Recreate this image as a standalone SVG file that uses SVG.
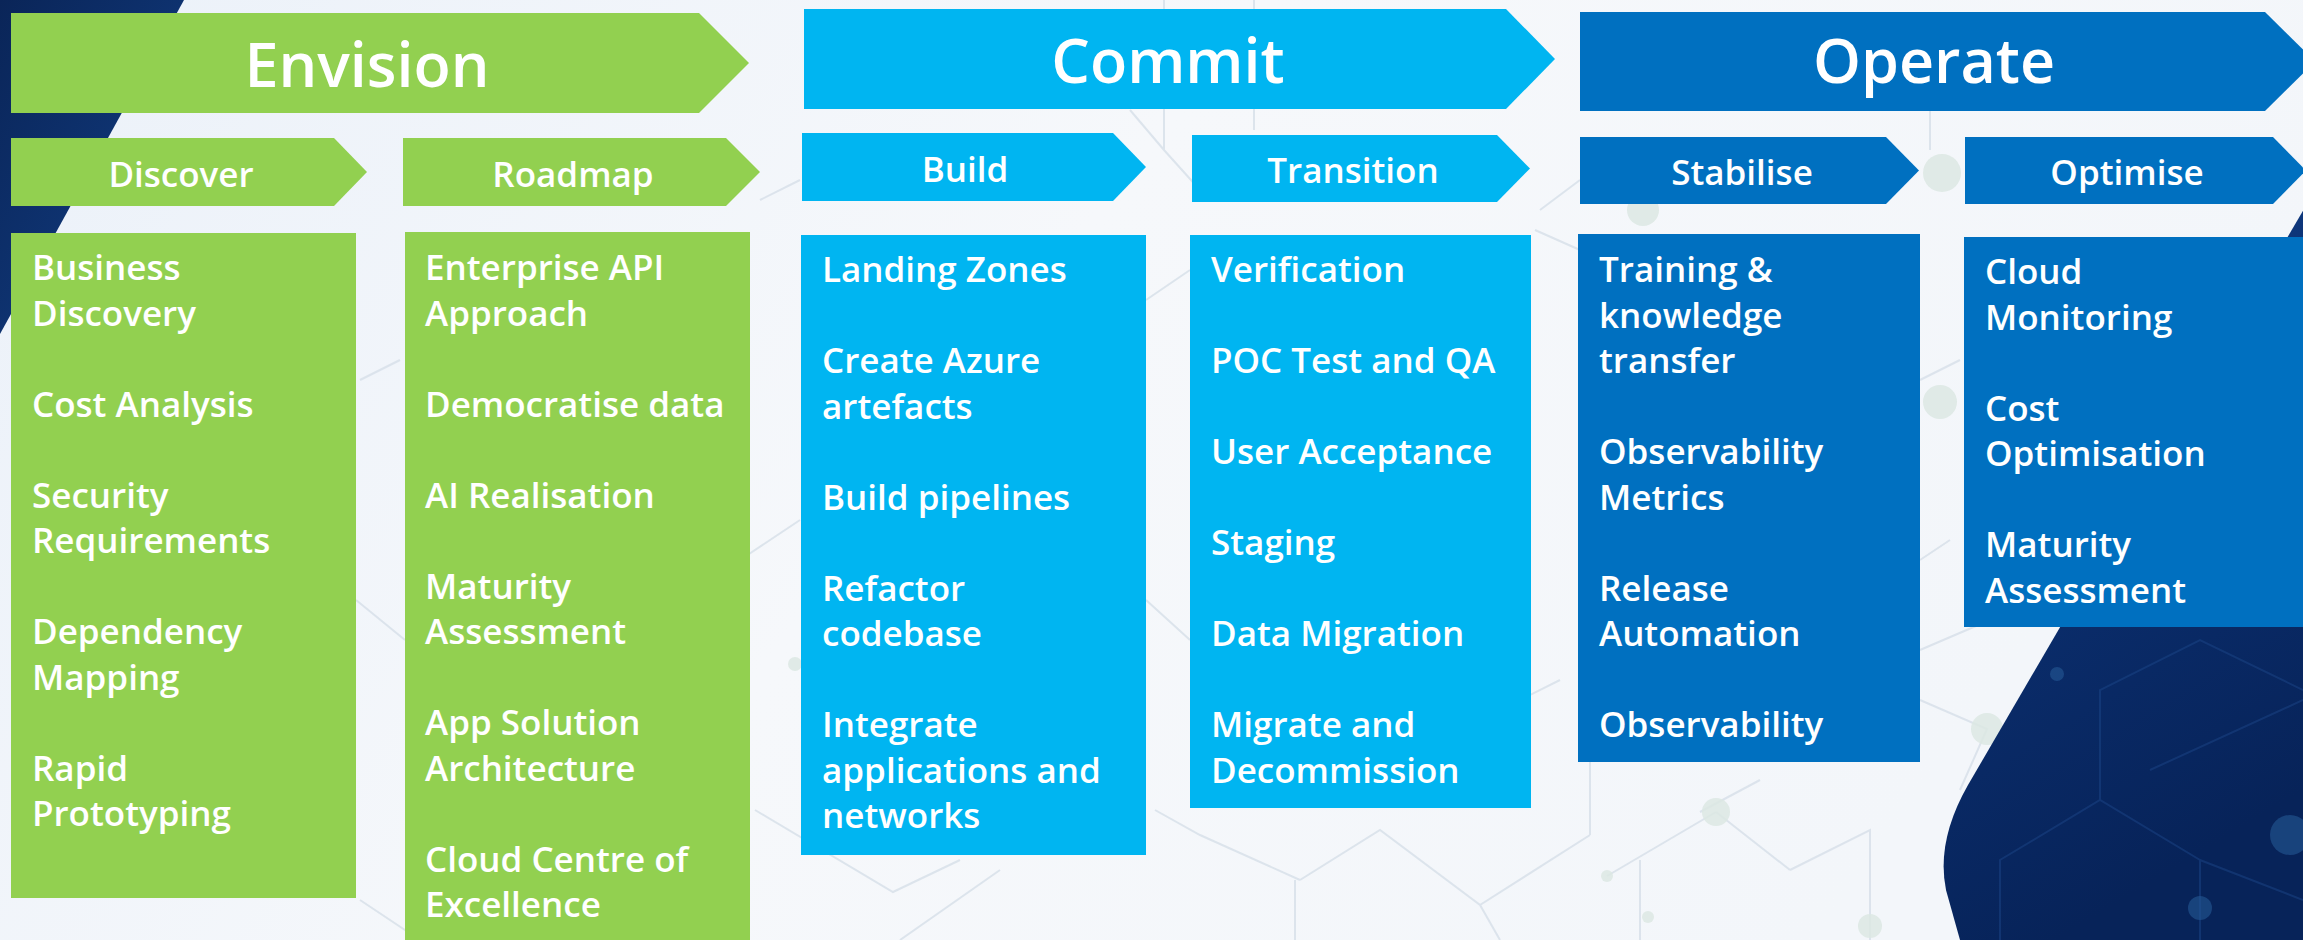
<svg xmlns="http://www.w3.org/2000/svg" width="2303" height="940" viewBox="0 0 2303 940">
<defs>
<linearGradient id="bg" x1="0" y1="0" x2="1" y2="0.3">
<stop offset="0" stop-color="#EBF1F9"/>
<stop offset="0.5" stop-color="#F6F8FB"/>
<stop offset="1" stop-color="#F3F6FA"/>
</linearGradient>
<linearGradient id="navyTL" x1="0" y1="0" x2="1" y2="1">
<stop offset="0" stop-color="#0A2558"/>
<stop offset="1" stop-color="#123F86"/>
</linearGradient>
<linearGradient id="navyBR" x1="0" y1="0" x2="0.3" y2="1">
<stop offset="0" stop-color="#1A55A3"/>
<stop offset="0.35" stop-color="#0C3275"/>
<stop offset="1" stop-color="#072359"/>
</linearGradient>
<style>
.green{fill:#92D050}
.lblue{fill:#00B5F1}
.dblue{fill:#0070C0}
.t{font-family:"Open Sans","Noto Sans","Liberation Sans",sans-serif;font-weight:600;fill:#FFFFFF}
.h1{font-size:61px;text-anchor:middle}
.h2{font-size:35px;text-anchor:middle}
.li{font-size:35px}
.net{fill:none;stroke:#D2DCE5;stroke-width:2;opacity:0.7}
.dot{fill:#DCE8E3;opacity:0.85}
.netd{fill:none;stroke:#1E4A8C;stroke-width:2;opacity:0.45}
</style>
</defs>

<g id="background">
<rect x="0" y="0" width="2303" height="940" fill="url(#bg)"/>
<path d="M0,0 H184 L0,334 Z" fill="url(#navyTL)"/>
<path class="net" d="M1164,0 V150 M1254,0 V130 M740,560 L800,520 M1130,110 L1164,150 L1200,190"/>
<path class="net" d="M755,810 L893,892 L960,860 M900,940 L1000,870 M1155,810 L1200,835 L1300,880 M1295,880 V940 M1300,880 L1380,830 L1480,905 L1500,940 M1480,905 L1590,835 M1590,835 V760 M1700,812 L1760,780 M1607,876 L1716,812 M1640,860 V940 M1790,870 L1870,830 L1870,940 M1716,812 L1790,870"/>
<path class="net" d="M1920,380 L1960,360 M1920,650 L1990,620 M1920,700 L1987,729 L1960,790 M1920,560 L1950,540"/>
<path class="net" d="M360,900 L420,940 M760,200 L800,180 M1540,210 L1580,180 M1930,110 V150 M1520,700 L1560,680 M1535,230 L1580,250 M360,380 L400,360 M356,600 L405,640 M1146,600 L1190,640 M1146,300 L1190,270"/>
<circle class="dot" cx="1942" cy="173" r="19"/>
<circle class="dot" cx="1643" cy="210" r="16"/>
<circle class="dot" cx="1940" cy="402" r="17"/>
<circle class="dot" cx="1987" cy="729" r="16"/>
<circle class="dot" cx="1716" cy="812" r="14"/>
<circle class="dot" cx="795" cy="664" r="7"/>
<circle class="dot" cx="1870" cy="926" r="12"/>
<circle class="dot" cx="1607" cy="876" r="6"/>
<circle class="dot" cx="1648" cy="917" r="6"/>
<path d="M2318,185 L1968,785 Q1936,841 1946,890 L1960,940 L2303,940 Z" fill="url(#navyBR)"/>
<path class="netd" d="M2000,940 L2000,860 L2100,800 L2200,860 L2200,940 M2100,800 V690 L2200,640 L2303,690 M2150,770 L2303,700 M2200,860 L2303,900"/>
<circle cx="2290" cy="835" r="20" fill="#245894" opacity="0.6"/>
<circle cx="2200" cy="908" r="12" fill="#245894" opacity="0.6"/>
<circle cx="2057" cy="674" r="7" fill="#245894" opacity="0.6"/>
</g>

<g id="envision">
<path class="green" d="M11,13 H699 L749,63 L699,113 H11 Z"/>
<text class="t h1" x="367" y="87">Envision</text>
</g>
<g id="commit">
<path class="lblue" d="M804,9 H1506 L1555,59 L1506,109 H804 Z"/>
<text class="t h1" x="1168" y="83">Commit</text>
</g>
<g id="operate">
<path class="dblue" d="M1580,12 H2265 L2315,61.5 L2265,111 H1580 Z"/>
<text class="t h1" x="1934" y="83">Operate</text>
</g>

<g id="discover">
<path class="green" d="M11,138 H334 L367,172 L334,206 H11 Z"/>
<text class="t h2" x="181" y="187">Discover</text>
<rect class="green" x="11" y="233" width="345" height="665"/>
<text class="t li" x="32">
<tspan x="32" y="280">Business</tspan>
<tspan x="32" y="325.5">Discovery</tspan>
<tspan x="32" y="416.5">Cost Analysis</tspan>
<tspan x="32" y="507.5">Security</tspan>
<tspan x="32" y="553">Requirements</tspan>
<tspan x="32" y="644">Dependency</tspan>
<tspan x="32" y="689.5">Mapping</tspan>
<tspan x="32" y="780.5">Rapid</tspan>
<tspan x="32" y="826">Prototyping</tspan>
</text>
</g>

<g id="roadmap">
<path class="green" d="M403,138 H726 L760,172 L726,206 H403 Z"/>
<text class="t h2" x="573" y="187">Roadmap</text>
<rect class="green" x="405" y="232" width="345" height="720"/>
<text class="t li" x="425">
<tspan x="425" y="280">Enterprise API</tspan>
<tspan x="425" y="325.5">Approach</tspan>
<tspan x="425" y="416.5">Democratise data</tspan>
<tspan x="425" y="507.5">AI Realisation</tspan>
<tspan x="425" y="598.5">Maturity</tspan>
<tspan x="425" y="644">Assessment</tspan>
<tspan x="425" y="735">App Solution</tspan>
<tspan x="425" y="780.5">Architecture</tspan>
<tspan x="425" y="871.5">Cloud Centre of</tspan>
<tspan x="425" y="917">Excellence</tspan>
</text>
</g>

<g id="build">
<path class="lblue" d="M802,133 H1113 L1146,167 L1113,201 H802 Z"/>
<text class="t h2" x="965" y="182">Build</text>
<rect class="lblue" x="801" y="235" width="345" height="620"/>
<text class="t li" x="822">
<tspan x="822" y="282">Landing Zones</tspan>
<tspan x="822" y="373">Create Azure</tspan>
<tspan x="822" y="418.5">artefacts</tspan>
<tspan x="822" y="509.5">Build pipelines</tspan>
<tspan x="822" y="600.5">Refactor</tspan>
<tspan x="822" y="646">codebase</tspan>
<tspan x="822" y="737">Integrate</tspan>
<tspan x="822" y="782.5">applications and</tspan>
<tspan x="822" y="828">networks</tspan>
</text>
</g>

<g id="transition">
<path class="lblue" d="M1192,135 H1497 L1530,168.5 L1497,202 H1192 Z"/>
<text class="t h2" x="1353" y="183">Transition</text>
<rect class="lblue" x="1190" y="235" width="341" height="573"/>
<text class="t li" x="1211">
<tspan x="1211" y="282">Verification</tspan>
<tspan x="1211" y="373">POC Test and QA</tspan>
<tspan x="1211" y="464">User Acceptance</tspan>
<tspan x="1211" y="555">Staging</tspan>
<tspan x="1211" y="646">Data Migration</tspan>
<tspan x="1211" y="737">Migrate and</tspan>
<tspan x="1211" y="782.5">Decommission</tspan>
</text>
</g>

<g id="stabilise">
<path class="dblue" d="M1580,137 H1886 L1919,170.5 L1886,204 H1580 Z"/>
<text class="t h2" x="1742" y="185">Stabilise</text>
<rect class="dblue" x="1578" y="234" width="342" height="528"/>
<text class="t li" x="1599">
<tspan x="1599" y="282">Training &amp;</tspan>
<tspan x="1599" y="327.5">knowledge</tspan>
<tspan x="1599" y="373">transfer</tspan>
<tspan x="1599" y="464">Observability</tspan>
<tspan x="1599" y="509.5">Metrics</tspan>
<tspan x="1599" y="600.5">Release</tspan>
<tspan x="1599" y="646">Automation</tspan>
<tspan x="1599" y="737">Observability</tspan>
</text>
</g>

<g id="optimise">
<path class="dblue" d="M1965,137 H2273 L2306,170.5 L2273,204 H1965 Z"/>
<text class="t h2" x="2127" y="185">Optimise</text>
<rect class="dblue" x="1964" y="237" width="345" height="390"/>
<text class="t li" x="1985">
<tspan x="1985" y="284">Cloud</tspan>
<tspan x="1985" y="329.5">Monitoring</tspan>
<tspan x="1985" y="420.5">Cost</tspan>
<tspan x="1985" y="466">Optimisation</tspan>
<tspan x="1985" y="557">Maturity</tspan>
<tspan x="1985" y="602.5">Assessment</tspan>
</text>
</g>

<g id="connectors"></g>
</svg>
